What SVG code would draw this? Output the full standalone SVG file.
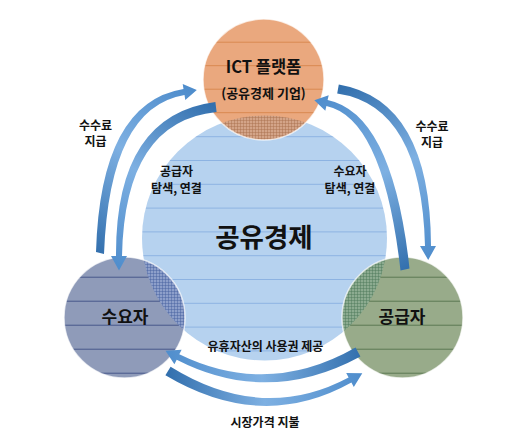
<svg xmlns="http://www.w3.org/2000/svg" width="515" height="444" viewBox="0 0 515 444">
<style>
text{font-family:"Noto Sans CJK KR","Liberation Sans",sans-serif;fill:#111;text-anchor:middle;font-weight:bold}
.sm{font-size:12px}
.edge{fill:none;stroke:#ffffff;stroke-opacity:0.7;stroke-width:1.5}
</style>
<defs>
<pattern id="pOrange" patternUnits="userSpaceOnUse" x="0" y="18.2" width="10" height="23.5">
<rect width="10" height="23.5" fill="#eaa87e"/><line x1="0" y1="0.5" x2="10" y2="0.5" stroke="#d9884f" stroke-width="1"/>
</pattern>
<pattern id="pBlue" patternUnits="userSpaceOnUse" x="0" y="17.2" width="10" height="23.8">
<rect width="10" height="23.8" fill="#b6d2ef"/><line x1="0" y1="0.5" x2="10" y2="0.5" stroke="#8db3e2" stroke-width="1"/>
</pattern>
<pattern id="pNavy" patternUnits="userSpaceOnUse" x="0" y="12.7" width="10" height="24">
<rect width="10" height="24" fill="#8f9bb9"/><line x1="0" y1="0.5" x2="10" y2="0.5" stroke="#46578a" stroke-width="1"/>
</pattern>
<pattern id="pGreen" patternUnits="userSpaceOnUse" x="0" y="12.7" width="10" height="24">
<rect width="10" height="24" fill="#98ab8a"/><line x1="0" y1="0.5" x2="10" y2="0.5" stroke="#5b7852" stroke-width="1"/>
</pattern>
<pattern id="cOrange" patternUnits="userSpaceOnUse" width="3" height="3">
<rect width="3" height="3" fill="#d3a488"/><path d="M0 0.5H3M0.5 0V3" stroke="#a86e4c" stroke-width="1" stroke-opacity="0.45"/>
</pattern>
<pattern id="cNavy" patternUnits="userSpaceOnUse" width="3" height="3">
<rect width="3" height="3" fill="#8d9fca"/><path d="M0 0.5H3M0.5 0V3" stroke="#45609e" stroke-width="1" stroke-opacity="0.45"/>
</pattern>
<pattern id="cGreen" patternUnits="userSpaceOnUse" width="3" height="3">
<rect width="3" height="3" fill="#8cab90"/><path d="M0 0.5H3M0.5 0V3" stroke="#4c7858" stroke-width="1" stroke-opacity="0.45"/>
</pattern>
<clipPath id="clipBlue"><circle cx="264.5" cy="238" r="122.5"/></clipPath>
<linearGradient id="gA1" gradientUnits="userSpaceOnUse" x1="100" y1="254" x2="190" y2="90"><stop offset="0" stop-color="#3370ae"/><stop offset="0.55" stop-color="#7eb0e2"/><stop offset="1" stop-color="#4f8dcc"/></linearGradient>
<linearGradient id="gA2" gradientUnits="userSpaceOnUse" x1="216" y1="107" x2="119" y2="270"><stop offset="0" stop-color="#3370ae"/><stop offset="0.5" stop-color="#7eb0e2"/><stop offset="1" stop-color="#4f8dcc"/></linearGradient>
<linearGradient id="gA3" gradientUnits="userSpaceOnUse" x1="338" y1="89" x2="428" y2="260"><stop offset="0" stop-color="#3370ae"/><stop offset="0.5" stop-color="#7eb0e2"/><stop offset="1" stop-color="#4f8dcc"/></linearGradient>
<linearGradient id="gA4" gradientUnits="userSpaceOnUse" x1="405" y1="270" x2="314" y2="100"><stop offset="0" stop-color="#3370ae"/><stop offset="0.5" stop-color="#7eb0e2"/><stop offset="1" stop-color="#4f8dcc"/></linearGradient>
<linearGradient id="gA5" gradientUnits="userSpaceOnUse" x1="360" y1="352" x2="165" y2="350"><stop offset="0" stop-color="#3370ae"/><stop offset="0.5" stop-color="#7eb0e2"/><stop offset="1" stop-color="#4f8dcc"/></linearGradient>
<linearGradient id="gA6" gradientUnits="userSpaceOnUse" x1="168" y1="371" x2="362" y2="373"><stop offset="0" stop-color="#3370ae"/><stop offset="0.5" stop-color="#7eb0e2"/><stop offset="1" stop-color="#4f8dcc"/></linearGradient>
</defs>

<g id="sharing-economy">
<circle cx="264.5" cy="238" r="122.5" fill="url(#pBlue)"/>
</g>

<g id="platform">
<circle cx="263.5" cy="79.5" r="60.5" fill="url(#pOrange)"/>
<circle cx="263.5" cy="79.5" r="60.5" fill="url(#cOrange)" clip-path="url(#clipBlue)"/>
<circle cx="263.5" cy="79.5" r="60.5" class="edge"/>
<text x="263.5" y="73" style="font-size:16.5px">ICT 플랫폼</text>
<text x="263.5" y="98" style="font-size:13px">(공유경제 기업)</text>
</g>

<g id="demander">
<circle cx="124.5" cy="317.5" r="60.5" fill="url(#pNavy)"/>
<circle cx="124.5" cy="317.5" r="60.5" fill="url(#cNavy)" clip-path="url(#clipBlue)"/>
<circle cx="124.5" cy="317.5" r="60.5" class="edge"/>
<text x="125" y="323" style="font-size:17px">수요자</text>
</g>

<g id="supplier">
<circle cx="402.5" cy="317.5" r="60.5" fill="url(#pGreen)"/>
<circle cx="402.5" cy="317.5" r="60.5" fill="url(#cGreen)" clip-path="url(#clipBlue)"/>
<circle cx="402.5" cy="317.5" r="60.5" class="edge"/>
<text x="402" y="323" style="font-size:17px">공급자</text>
</g>

<g id="center-text">
<text x="264" y="247" style="font-size:26.5px">공유경제</text>
</g>

<g id="connectors">
<path fill="url(#gA1)" d="M104 254 Q109.6 107.4 184.5 95 L185.3 99.9 L196.8 89.9 L182.7 84.1 L183.5 89 Q100.4 102.6 96 252 Z"/>
<path fill="url(#gA2)" d="M215.4 102 Q115.3 114.9 116 256 L111 256 L119 270.5 L127 256 L122 256 Q124.7 121.1 216.6 112 Z"/>
<path fill="url(#gA3)" d="M337.2 93.4 Q421.5 105.6 425 246 L420 246 L428.2 260 L436 246 L431 246 Q430.5 100.4 338.8 84.6 Z"/>
<path fill="url(#gA4)" d="M409.5 268.4 Q392.7 113.8 327.6 100.1 L328.7 95.2 L314.3 100.3 L325.3 110.8 L326.4 105.9 Q383.3 118.2 400.5 270.6 Z"/>
<path fill="url(#gA5)" d="M355.6 347.6 Q267.9 397.5 179.3 354.3 L181.6 349.8 L165.5 350.7 L174.4 364.2 L176.7 359.7 Q268.1 406.5 360.4 356.4 Z"/>
<path fill="url(#gA6)" d="M165.4 375.3 Q261.8 432.6 351.4 382.6 L353.8 387 L362.3 373.3 L346.2 373 L348.6 377.4 Q262.2 423.4 170.6 366.7 Z"/>
<text class="sm" x="95.5" y="130">수수료</text>
<text class="sm" x="95.5" y="146">지급</text>
<text class="sm" x="432" y="131">수수료</text>
<text class="sm" x="432" y="147">지급</text>
<text class="sm" x="176.5" y="176">공급자</text>
<text class="sm" x="176.5" y="192.5">탐색, 연결</text>
<text class="sm" x="350" y="176">수요자</text>
<text class="sm" x="350" y="192.5">탐색, 연결</text>
<text class="sm" x="265.5" y="351">유휴자산의 사용권 제공</text>
<text class="sm" x="265" y="427">시장가격 지불</text>
</g>
</svg>
